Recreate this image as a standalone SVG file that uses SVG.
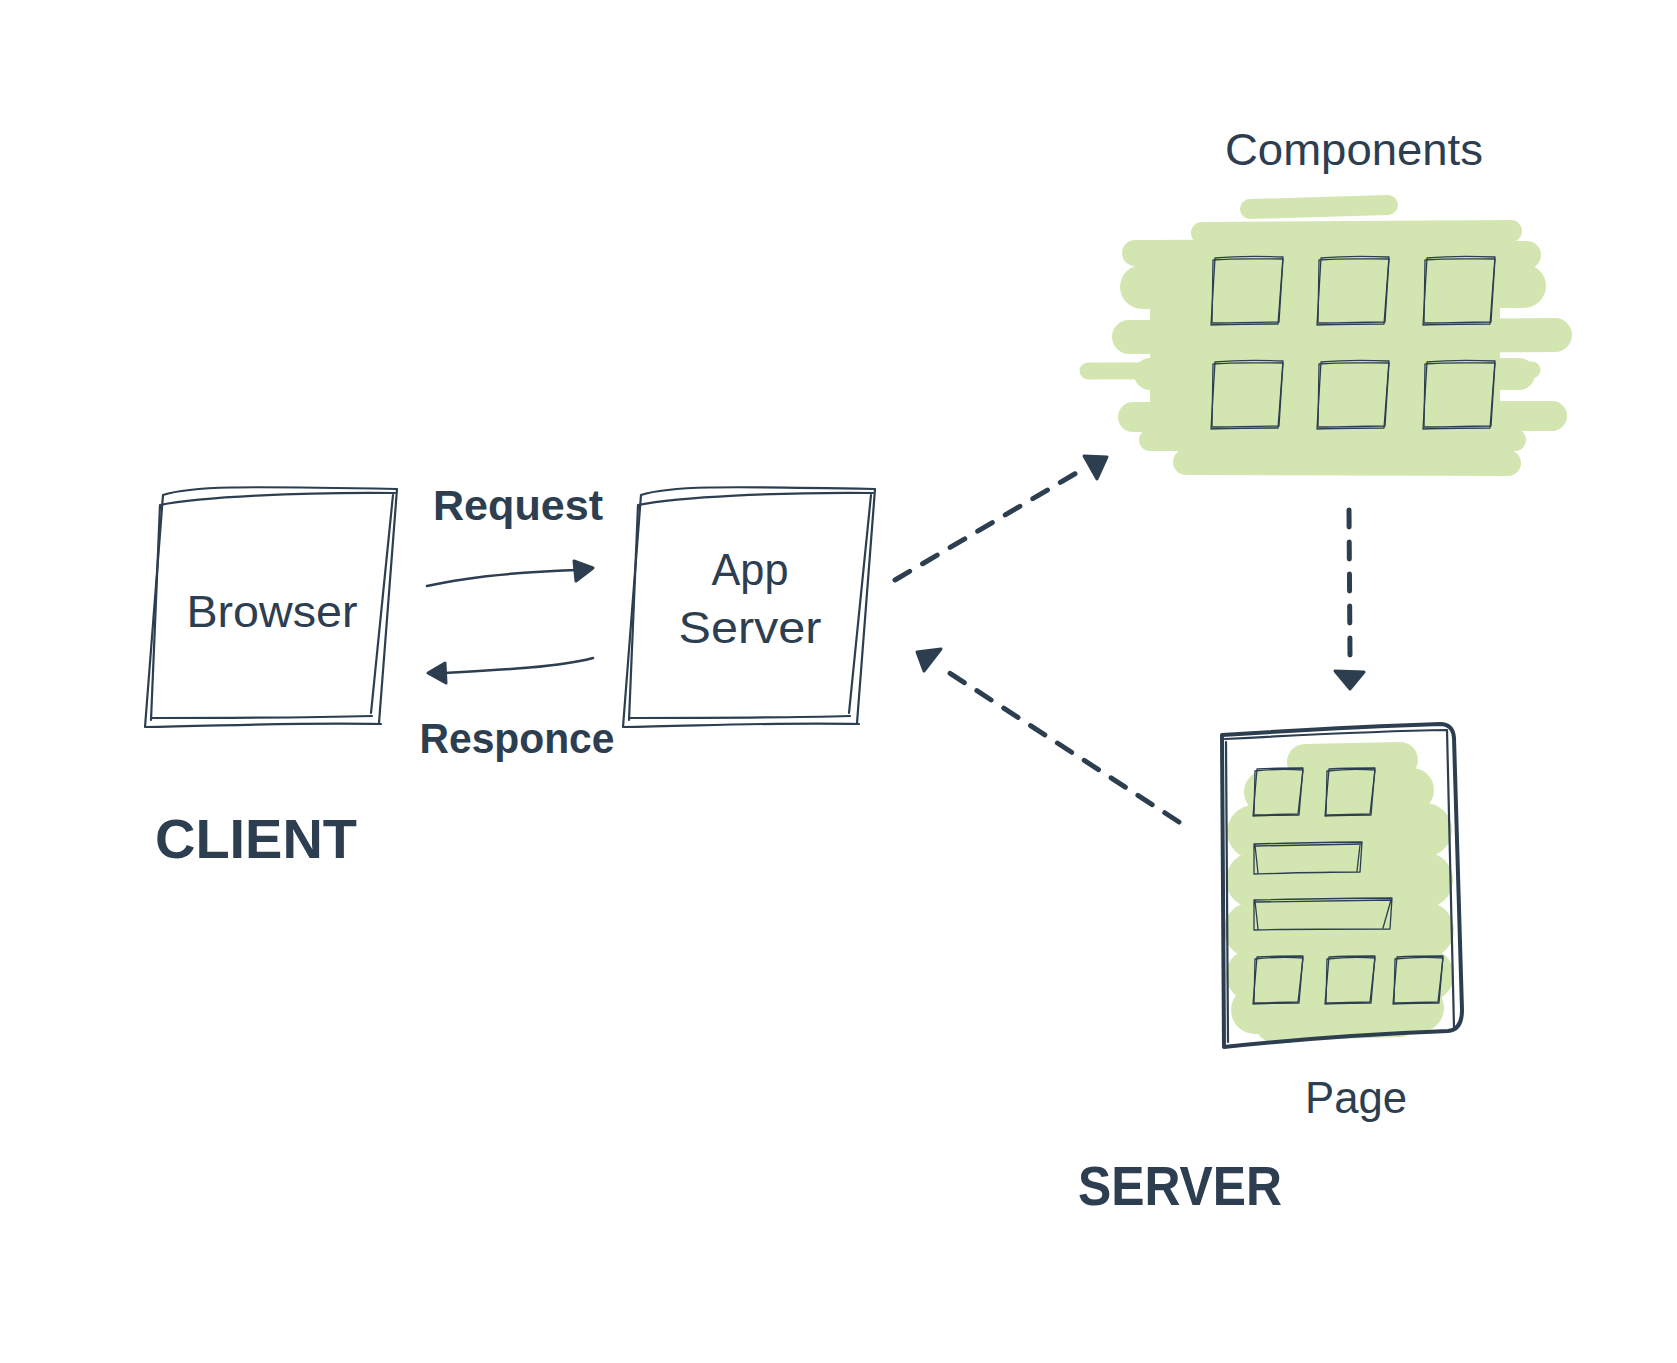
<svg xmlns="http://www.w3.org/2000/svg" width="1677" height="1363" viewBox="0 0 1677 1363">
<style>
.t{font-family:"Liberation Sans",Arial,sans-serif;fill:#2c3e50;}
.sk{fill:none;stroke:#2c3e50;stroke-width:2.2;stroke-linecap:round;stroke-linejoin:round;}
.thin{fill:none;stroke:#2c3e50;stroke-width:1.3;stroke-linecap:round;stroke-linejoin:round;}
.thick{fill:none;stroke:#2c3e50;stroke-width:4;stroke-linecap:round;stroke-linejoin:round;}
.g{fill:none;stroke:#d3e6b1;stroke-linecap:round;}
.dash{fill:none;stroke:#2c3e50;stroke-width:5;stroke-linecap:round;stroke-dasharray:17 15;}
.ah{fill:#2c3e50;stroke:#2c3e50;stroke-width:3;stroke-linejoin:round;}
.ln{fill:none;stroke:#2c3e50;stroke-width:2.5;stroke-linecap:round;}
</style>
<defs>
<g id="box">
<path class="sk" d="M163,495 C190,486 240,486 397,489 M397,489 L379,723 M381,724 C300,722 220,726 145,727 M145,727 L163,495"/>
<path class="sk" d="M160,505 C200,497 300,492 395,493 M393,495 L371,713 M372,716 C300,718 220,718 152,718 M151,720 L160,505"/>
</g>
<g id="sq">
<path class="thin" d="M4,2 C25,0 50,0 72,1 L67,68 C45,68 20,68 0,69 L4,2"/>
<path class="thin" d="M2,4 C25,2 50,3 72,3 L68,66 C40,66 20,67 1,67 L2,4"/>
</g>
<g id="psq">
<path class="thin" d="M4,1 C20,0 35,0 50,0 L46,47 C30,47 15,47 0,48 L4,1"/>
<path class="thin" d="M2,3 C20,1 35,1 50,2 L45,46 C30,46 15,47 1,47 L2,3"/>
</g>
</defs>

<g id="browser">
<use href="#box"/>
<text class="t" x="272" y="627" font-size="44" text-anchor="middle" textLength="171" lengthAdjust="spacingAndGlyphs">Browser</text>
</g>

<g id="app-server">
<use href="#box" transform="translate(478,0)"/>
<text class="t" x="750" y="585" font-size="44" text-anchor="middle" textLength="77" lengthAdjust="spacingAndGlyphs">App</text>
<text class="t" x="750" y="643" font-size="44" text-anchor="middle" textLength="143" lengthAdjust="spacingAndGlyphs">Server</text>
</g>

<g id="components">
<g class="g">
<rect x="1150" y="250" width="350" height="198" fill="#d3e6b1" stroke="none"/>
<line x1="1250" y1="209" x2="1388" y2="205" stroke-width="20"/>
<line x1="1202" y1="233" x2="1511" y2="231" stroke-width="22"/>
<line x1="1135" y1="253" x2="1500" y2="252" stroke-width="26"/>
<line x1="1400" y1="255" x2="1527" y2="255" stroke-width="28"/>
<line x1="1142" y1="287" x2="1524" y2="286" stroke-width="44"/>
<line x1="1129" y1="337" x2="1555" y2="335" stroke-width="34"/>
<line x1="1088" y1="371" x2="1532" y2="370" stroke-width="17"/>
<line x1="1150" y1="374" x2="1519" y2="374" stroke-width="32"/>
<line x1="1133" y1="417" x2="1552" y2="416" stroke-width="30"/>
<line x1="1150" y1="440" x2="1515" y2="440" stroke-width="22"/>
<line x1="1186" y1="462" x2="1508" y2="463" stroke-width="26"/>
</g>
<use href="#sq" transform="translate(1211,256)"/>
<use href="#sq" transform="translate(1317,256)"/>
<use href="#sq" transform="translate(1423,256)"/>
<use href="#sq" transform="translate(1211,360)"/>
<use href="#sq" transform="translate(1317,360)"/>
<use href="#sq" transform="translate(1423,360)"/>
<text class="t" x="1354" y="165" font-size="44" text-anchor="middle" textLength="258" lengthAdjust="spacingAndGlyphs">Components</text>
</g>

<g id="page">
<g class="g">
<line x1="1305" y1="762" x2="1400" y2="760" stroke-width="36"/>
<line x1="1266" y1="792" x2="1412" y2="790" stroke-width="44"/>
<line x1="1254" y1="832" x2="1425" y2="830" stroke-width="54"/>
<line x1="1254" y1="880" x2="1425" y2="880" stroke-width="56"/>
<line x1="1252" y1="930" x2="1426" y2="930" stroke-width="56"/>
<line x1="1252" y1="975" x2="1428" y2="975" stroke-width="52"/>
<line x1="1255" y1="1010" x2="1420" y2="1008" stroke-width="48"/>
<line x1="1270" y1="1028" x2="1400" y2="1024" stroke-width="26"/>
</g>
<path class="thick" d="M1222,735 C1300,730 1380,726 1440,724 Q1453,724 1454,738 L1462,1010 Q1462,1030 1448,1031 C1370,1034 1290,1040 1224,1047 L1222,735"/>
<path class="sk" d="M1225,739 C1300,735 1380,731 1447,730 L1454,1028 M1226,742 L1228,1042"/>
<use href="#psq" transform="translate(1253,768)"/>
<use href="#psq" transform="translate(1325,768)"/>
<path class="thin" d="M1254,844 C1290,843 1330,842 1362,842 L1360,872 C1320,872 1290,873 1254,874 L1254,844 M1256,846 L1361,844 M1360,845 L1357,871 M1255,845 L1258,873"/>
<path class="thin" d="M1254,900 C1300,899 1350,898 1392,898 L1390,929 C1340,929 1290,929 1254,930 L1254,900 M1256,902 L1391,900 M1391,900 L1383,928 M1255,901 L1258,929"/>
<use href="#psq" transform="translate(1253,956)"/>
<use href="#psq" transform="translate(1325,956)"/>
<use href="#psq" transform="translate(1393,956)"/>
<text class="t" x="1356" y="1113" font-size="44" text-anchor="middle" textLength="102" lengthAdjust="spacingAndGlyphs">Page</text>
</g>

<g id="labels">
<text class="t" x="518" y="520" font-size="43" font-weight="bold" text-anchor="middle" textLength="170" lengthAdjust="spacingAndGlyphs">Request</text>
<text class="t" x="517" y="753" font-size="43" font-weight="bold" text-anchor="middle" textLength="195" lengthAdjust="spacingAndGlyphs">Responce</text>
<text class="t" x="155" y="858" font-size="56" font-weight="bold" textLength="202" lengthAdjust="spacingAndGlyphs">CLIENT</text>
<text class="t" x="1078" y="1205" font-size="56" font-weight="bold" textLength="204" lengthAdjust="spacingAndGlyphs">SERVER</text>
</g>

<g id="connectors">
<path class="ln" d="M427,586 C470,576 520,572 576,570"/>
<path class="ah" d="M593,568 L574,561 L576,581 Z"/>
<path class="ln" d="M593,658 C560,667 500,670 444,673"/>
<path class="ah" d="M428,673 L445,663 L446,683 Z"/>
<path class="dash" d="M895,580 L1078,472"/>
<path class="ah" d="M1097,479 L1084,456 L1107,457 Z"/>
<path class="dash" d="M1179,822 L945,670"/>
<path class="ah" d="M917,652 L941,649 L924,671 Z"/>
<path class="dash" d="M1349,510 L1350,655"/>
<path class="ah" d="M1350,689 L1335,671 L1364,672 Z"/>
</g>
</svg>
